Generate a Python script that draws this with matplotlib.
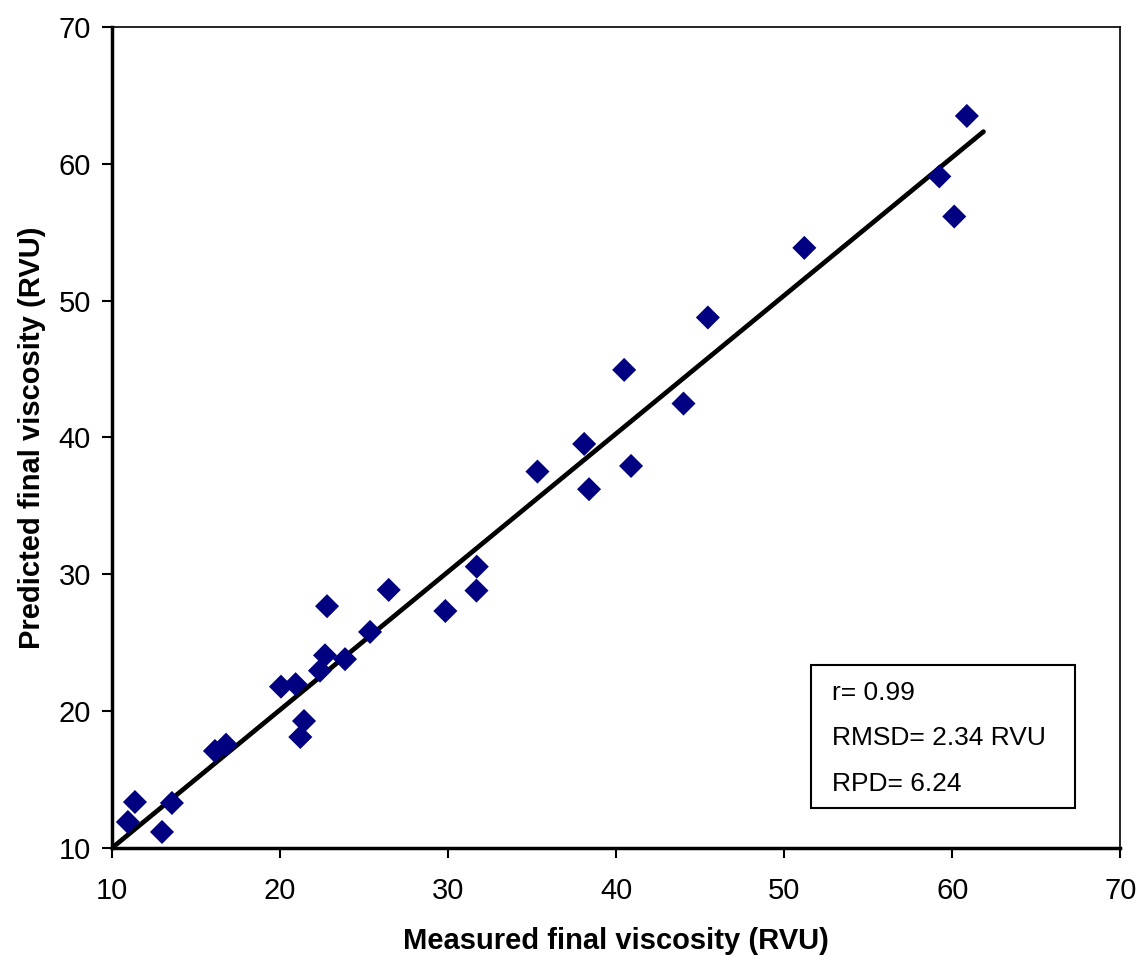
import matplotlib
matplotlib.use('Agg')
import matplotlib.pyplot as plt
import numpy as np

plt.rcParams.update({
    'font.family': ['Liberation Sans', 'DejaVu Sans'],
    'font.size': 21,
})

# Measured vs predicted final viscosity (RVU)
measured = [10.95, 11.37, 12.98, 13.57, 16.13, 16.79, 20.06, 20.93, 21.43, 21.21,
            22.38, 22.68, 22.80, 23.87, 25.36, 26.47, 29.84, 31.69, 31.71, 35.32,
            38.39, 38.10, 40.89, 40.48, 44.01, 45.46, 51.20, 59.23, 60.12, 60.87]
predicted = [11.90, 13.36, 11.17, 13.29, 17.09, 17.55, 21.79, 21.97, 19.28, 18.11,
             22.96, 24.08, 27.67, 23.80, 25.79, 28.86, 27.32, 28.81, 30.56, 37.51,
             36.22, 39.53, 37.92, 44.94, 42.48, 48.77, 53.86, 59.08, 56.15, 63.50]

# regression line
fit_slope = 1.0096
fit_intercept = -0.1
line_x = [10.0, 61.86]

stats_lines = ['r= 0.99', 'RMSD= 2.34 RVU', 'RPD= 6.24']

fig = plt.figure(figsize=(11.42, 9.61), dpi=100)
ax = fig.add_axes([0.098, 0.1176, 0.883, 0.8543])

ax.scatter(measured, predicted, marker='D', s=150, color='#000080',
           edgecolors='none', zorder=3)
lx = np.array(line_x)
ax.plot(lx, fit_intercept + fit_slope * lx, color='black', linewidth=3.4,
        solid_capstyle='round', zorder=2)

ax.set_xlim(10, 70)
ax.set_ylim(10, 70)
ax.set_xticks(range(10, 71, 10))
ax.set_yticks(range(10, 71, 10))
ax.tick_params(direction='out', length=7, width=1.5, labelsize=21)
ax.tick_params(axis='x', pad=14)
ax.tick_params(axis='y', pad=8)

for side in ['left', 'bottom']:
    ax.spines[side].set_linewidth(2.5)
for side in ['top', 'right']:
    ax.spines[side].set_linewidth(1.2)

ax.set_xlabel('Measured final viscosity (RVU)', fontsize=21, fontweight='bold',
              labelpad=16)
ax.set_ylabel('Predicted final viscosity (RVU)', fontsize=21, fontweight='bold',
              labelpad=9)

# stats box
bx0, by0 = (810.7 - 112) / 1008, (848 - 808.3) / 821
bw, bh = (1075 - 810.7) / 1008, (808.3 - 665) / 821
ax.add_patch(plt.Rectangle((bx0, by0), bw, bh, transform=ax.transAxes,
                           facecolor='white', edgecolor='black', linewidth=1.5,
                           zorder=4))
for i, t in enumerate(stats_lines):
    ax.text((831.7 - 112) / 1008, (848 - (693 + i * 45.5)) / 821, t,
            transform=ax.transAxes, ha='left', va='center', fontsize=19,
            zorder=5)

fig.savefig('out.png', dpi=100)
